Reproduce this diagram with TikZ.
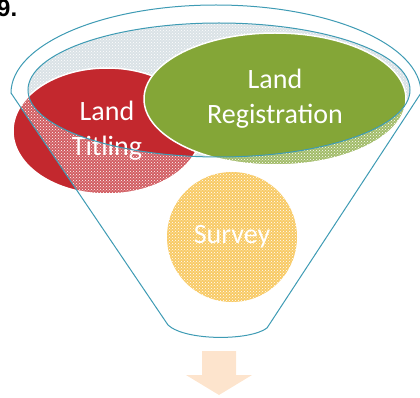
\documentclass[tikz,border=0pt]{standalone}
\usepackage{fontspec}
\setmainfont{Carlito}
\newfontfamily\numfont{Liberation Sans}
\usepackage{tikz}
\usetikzlibrary{shapes,arrows,patterns}
\definecolor{rimblue}{RGB}{62,155,180}
\definecolor{titlingred}{RGB}{195,40,46}
\definecolor{regigreen}{RGB}{132,166,55}
\definecolor{surveygold}{RGB}{246,185,50}
\definecolor{mouthgrey}{RGB}{218,226,230}
\definecolor{arrowpeach}{RGB}{253,228,205}
\tikzstyle{blob} = [ellipse, draw=white, line width=1.5pt, text=white,
    align=center, inner sep=0pt, font=\fontsize{28}{35}\selectfont]
\tikzstyle{rim} = [draw=rimblue, line width=1pt]
\tikzstyle{glass} = [fill=white, fill opacity=0.25, even odd rule]
\tikzstyle{dots} = [pattern=crosshatch dots, pattern color=white, even odd rule]

\begin{document}
\begin{tikzpicture}[x=1pt, y=-1pt]
    \useasboundingbox (0,0) rectangle (420,398);
    % Funnel body and mouth
    \fill[white] (11,93) arc[start angle=180, end angle=360, x radius=205, y radius=88]
        -- (267,328) .. controls (250,341) and (185,341) .. (168,325) -- cycle;
    \fill[mouthgrey] (219,90) ellipse[x radius=191, y radius=67];
    \path[dots] (219,90) ellipse[x radius=191, y radius=67];
    % Place nodes
    \node [blob, fill=titlingred, minimum width=188pt, minimum height=126pt] (titling) at (107,131) {Land\\Titling};
    \node [blob, fill=regigreen, minimum width=262pt, minimum height=132pt] (registration) at (275,99) {Land\\Registration};
    \node [blob, circle, draw=none, fill=surveygold, minimum size=130pt] (survey) at (232,237) {Survey};
    % Front of the funnel
    \path[glass] (11,93) arc[start angle=180, end angle=360, x radius=205, y radius=88]
        -- (267,328) .. controls (250,341) and (185,341) .. (168,325) -- cycle
        (219,90) ellipse[x radius=191, y radius=67];
    \path[dots] (11,93) arc[start angle=180, end angle=360, x radius=205, y radius=88]
        -- (267,328) .. controls (250,341) and (185,341) .. (168,325) -- cycle
        (219,90) ellipse[x radius=191, y radius=67];
    \draw[rim] (168,325) -- (11,93) arc[start angle=180, end angle=360, x radius=205, y radius=88]
        -- (267,328) .. controls (250,341) and (185,341) .. (168,325);
    \draw[rim] (219,90) ellipse[x radius=191, y radius=67];
    % Output arrow
    \fill[arrowpeach] (202,351) -- (236,351) -- (236,375) -- (252,375) -- (219,395)
        -- (186,375) -- (202,375) -- cycle;
    \node [anchor=base west, inner sep=0pt, font=\numfont\bfseries\fontsize{24}{24}\selectfont] (fignum) at (-3,17) {9.};
\end{tikzpicture}
\end{document}
